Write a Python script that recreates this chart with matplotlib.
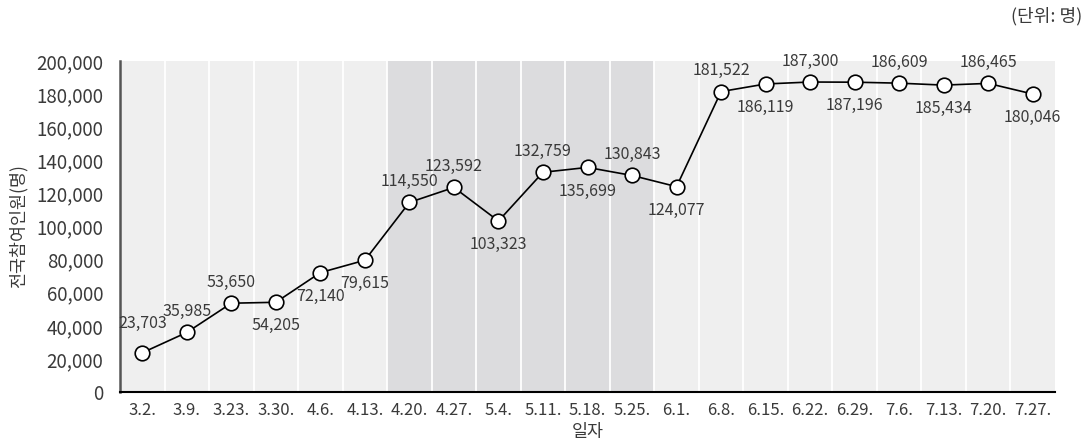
import matplotlib
matplotlib.use("Agg")
import matplotlib.pyplot as plt
import numpy as np

plt.rcParams['font.family'] = ['Noto Sans CJK KR', 'DejaVu Sans']

dates = ["3.2.", "3.9.", "3.23.", "3.30.", "4.6.", "4.13.", "4.20.", "4.27.", "5.4.",
         "5.11.", "5.18.", "5.25.", "6.1.", "6.8.", "6.15.", "6.22.", "6.29.", "7.6.",
         "7.13.", "7.20.", "7.27."]
participants = [23703, 35985, 53650, 54205, 72140, 79615, 114550, 123592, 103323,
                132759, 135699, 130843, 124077, 181522, 186119, 187300, 187196, 186609,
                185434, 186465, 180046]
label_side = ["up", "up", "up", "down", "down", "down", "up", "up", "down",
              "up", "down", "up", "down", "up", "down", "up", "down", "up",
              "down", "up", "down"]
highlight_start, highlight_end = "4.20.", "5.25."
yticks = [0, 20000, 40000, 60000, 80000, 100000, 120000, 140000, 160000, 180000, 200000]

text_color = "#3a3a3a"
fig = plt.figure(figsize=(10.89, 4.41), dpi=100)
ax = fig.add_axes([120/1089, 1-392/441, (1055-120)/1089, (392-61)/441])

n = len(dates)
x = np.arange(n)
ax.set_xlim(-0.5, n - 0.5)
ax.set_ylim(0, 200000)
ax.set_facecolor("#efefef")

i0 = dates.index(highlight_start)
i1 = dates.index(highlight_end)
ax.axvspan(i0 - 0.5, i1 + 0.5, color="#dcdcde", zorder=0.5, lw=0)
for b in np.arange(0.5, n - 0.5, 1.0):
    ax.axvline(b, color="white", lw=1.3, zorder=1)

ax.plot(x, participants, color="black", lw=1.2, zorder=3,
        marker="o", markersize=10.5, markerfacecolor="white",
        markeredgecolor="black", markeredgewidth=1.2)

for i, (xi, v, side) in enumerate(zip(x, participants, label_side)):
    dy = 15 if side == "up" else -17
    if i == 0:
        dy = 21
    ax.annotate(f"{v:,}", (xi, v), xytext=(0, dy), textcoords="offset points",
                ha="center", va="center", fontsize=11.5, color=text_color, zorder=4)

ax.set_xticks(x)
ax.set_xticklabels(dates)
ax.set_yticks(yticks)
ax.set_yticklabels([f"{t:,}" for t in yticks])
ax.tick_params(axis="both", length=0, colors=text_color)
ax.tick_params(axis="y", pad=12, labelsize=13.5)
ax.tick_params(axis="x", pad=7, labelsize=12)

for s in ["top", "right"]:
    ax.spines[s].set_visible(False)
ax.spines["left"].set_color("#555555")
ax.spines["left"].set_linewidth(1.8)
ax.spines["bottom"].set_color("black")
ax.spines["bottom"].set_linewidth(1.5)

ax.set_xlabel("일자", fontsize=12.5, color=text_color, labelpad=3)
ax.set_ylabel("전국참여인원(명)", fontsize=12.5, color=text_color, labelpad=6)

fig.text(1082/1089, 1-16/441, "(단위: 명)", ha="right", va="center",
         fontsize=13, color=text_color)

fig.savefig("out.png", dpi=100)
